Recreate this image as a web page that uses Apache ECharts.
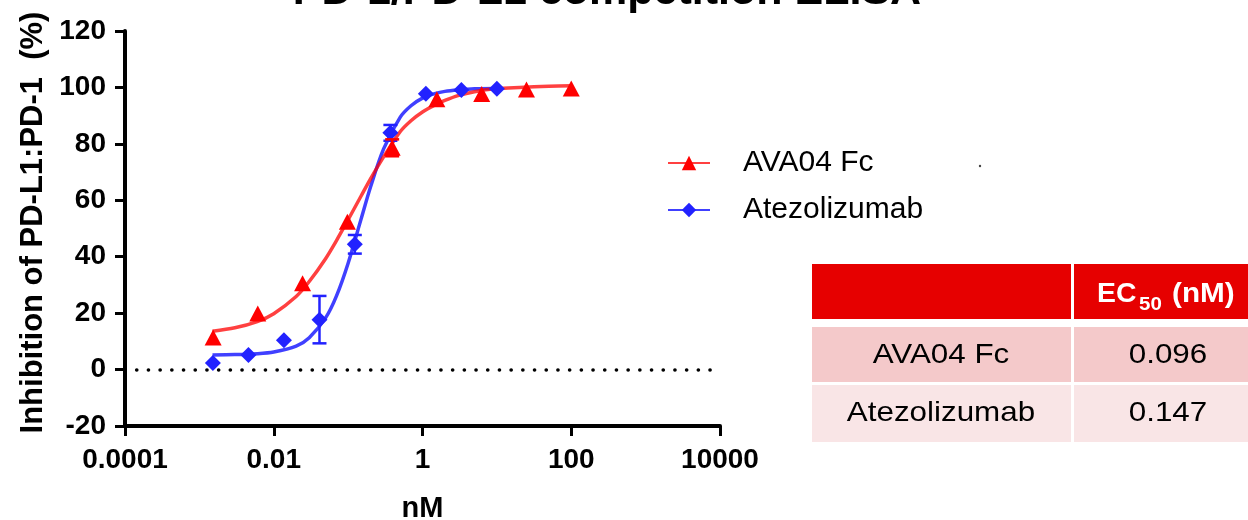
<!DOCTYPE html>
<html>
<head>
<meta charset="utf-8">
<script src="https://cdn.jsdelivr.net/npm/echarts@6/dist/echarts.min.js"></script>
<style>
  html, body { margin: 0; padding: 0; background: #fff; }
  #chart { width: 1248px; height: 520px; }
</style>
</head>
<body>
<div id="chart"></div>
<script>
// 数据 (nM, %)
var redName = 'AVA04 Fc';
var blueName = 'Atezolizumab';

var redX = [0.00153, 0.0061, 0.0244, 0.0977, 0.391, 1.56, 6.25, 25, 100];
var redY = [11.4, 19.9, 30.6, 52.4, 78.6, 95.8, 97.7, 99.3, 99.6];
var redErr = [0, 0, 0, 0, 3.0, 0, 0, 0, 0];

var blueX = [0.00152, 0.00457, 0.0137, 0.0412, 0.123, 0.370, 1.11, 3.33, 10];
var blueY = [2.3, 5.2, 10.4, 17.7, 44.4, 83.9, 97.8, 99.1, 99.5];
var blueErr = [0, 0, 0, 8.4, 3.3, 2.8, 0, 0, 0];

// 拟合曲线
var redCurveX = [0.0015, 0.003, 0.006, 0.01, 0.02, 0.03, 0.05, 0.07, 0.1, 0.15, 0.2, 0.3, 0.5, 0.7, 1, 1.5, 2, 3, 5, 10, 20, 50, 100];
var redCurveY = [13.6, 14.8, 17.0, 19.8, 25.9, 31.2, 39.4, 45.8, 53.1, 61.6, 67.6, 75.4, 84.3, 88.2, 91.3, 93.9, 95.4, 97.1, 98.5, 99.6, 100.0, 100.4, 100.6];
var blueCurveX = [0.0015, 0.003, 0.006, 0.01, 0.02, 0.03, 0.05, 0.07, 0.1, 0.15, 0.2, 0.3, 0.5, 0.7, 1, 1.5, 2, 3, 5, 10];
var blueCurveY = [5.2, 5.3, 5.6, 6.2, 8.3, 11.3, 18.4, 26.2, 37.7, 53.5, 64.7, 78.2, 89.4, 93.5, 96.2, 97.9, 98.6, 99.1, 99.5, 99.6];

var xTickLabels = ['0.0001', '0.01', '1', '100', '10000'];

// 表格
var tableNames = ['AVA04 Fc', 'Atezolizumab'];
var tableEC50 = ['0.096', '0.147'];

var RED = '#ff0000';
var RED_LINE = 'rgba(255,0,0,0.75)';
var BLUE = '#2222ff';
var BLUE_LINE = 'rgba(0,0,255,0.75)';
var FONT = '"Liberation Sans", Arial, sans-serif';

function pairs(xs, ys) {
    var out = [];
    for (var i = 0; i < xs.length; i++) out.push([xs[i], ys[i]]);
    return out;
}

function errData(xs, ys, es) {
    var out = [];
    for (var i = 0; i < xs.length; i++) {
        if (es[i] > 0) out.push([xs[i], ys[i] - es[i], ys[i] + es[i]]);
    }
    return out;
}

function errRender(color) {
    return function (params, api) {
        var top = api.coord([api.value(0), api.value(2)]);
        var bot = api.coord([api.value(0), api.value(1)]);
        var w = 7;
        var st = { stroke: color, lineWidth: 2.5 };
        return {
            type: 'group',
            children: [
                { type: 'line', shape: { x1: top[0], y1: top[1], x2: bot[0], y2: bot[1] }, style: st },
                { type: 'line', shape: { x1: top[0] - w, y1: top[1], x2: top[0] + w, y2: top[1] }, style: st },
                { type: 'line', shape: { x1: bot[0] - w, y1: bot[1], x2: bot[0] + w, y2: bot[1] }, style: st }
            ]
        };
    };
}

var myChart = echarts.init(document.getElementById('chart'));

// 表格图形
var tableGraphics = [];
var rowTop = [327, 385];
var rowH = [55, 57];
var rowColor = ['#f4c9ca', '#f9e5e6'];
tableGraphics.push({ type: 'rect', shape: { x: 812, y: 264, width: 259, height: 55 }, style: { fill: '#e60000' } });
tableGraphics.push({ type: 'rect', shape: { x: 1074, y: 264, width: 180, height: 55 }, style: { fill: '#e60000' } });
for (var r = 0; r < tableNames.length; r++) {
    tableGraphics.push({ type: 'rect', shape: { x: 812, y: rowTop[r], width: 259, height: rowH[r] }, style: { fill: rowColor[r] } });
    tableGraphics.push({ type: 'rect', shape: { x: 1074, y: rowTop[r], width: 180, height: rowH[r] }, style: { fill: rowColor[r] } });
    tableGraphics.push({
        type: 'text', x: 941, y: rowTop[r] + 28, scaleX: 1.12,
        style: { text: tableNames[r], font: '28px ' + FONT, fill: '#000', align: 'center', verticalAlign: 'middle' }
    });
    tableGraphics.push({
        type: 'text', x: 1168, y: rowTop[r] + 28, scaleX: 1.12,
        style: { text: tableEC50[r], font: '28px ' + FONT, fill: '#000', align: 'center', verticalAlign: 'middle' }
    });
}
tableGraphics.push({ type: 'text', x: 1097, y: 295, scaleX: 1.05, style: { text: 'EC', font: 'bold 27px ' + FONT, fill: '#fff', align: 'left', verticalAlign: 'middle' } });
tableGraphics.push({ type: 'text', x: 1139, y: 305, scaleX: 1.08, style: { text: '50', font: 'bold 19px ' + FONT, fill: '#fff', align: 'left', verticalAlign: 'middle' } });
tableGraphics.push({ type: 'text', x: 1172, y: 295, scaleX: 1.1, style: { text: '(nM)', font: 'bold 27px ' + FONT, fill: '#fff', align: 'left', verticalAlign: 'middle' } });

var option = {
    animation: false,
    backgroundColor: '#fff',
    graphic: [
        {
            type: 'text', x: 607, y: -8,
            style: { text: 'PD-1/PD-L1 competition ELISA', font: 'bold 43px ' + FONT, fill: '#000', align: 'center', verticalAlign: 'middle' }
        },
        { type: 'circle', shape: { cx: 980, cy: 166, r: 1.2 }, style: { fill: '#444' } }
    ].concat(tableGraphics),
    legend: {
        data: [redName, blueName],
        orient: 'vertical',
        left: 667,
        top: 148,
        padding: 0,
        itemWidth: 42,
        itemHeight: 18,
        itemGap: 17,
        textStyle: { fontFamily: FONT, fontSize: 30, color: '#000', lineHeight: 30, padding: [0, 0, 0, 28] }
    },
    grid: { left: 125, right: 528, top: 31, bottom: 94, outerBoundsMode: 'none' },
    xAxis: {
        type: 'log',
        logBase: 10,
        min: 0.0001,
        max: 10000,
        interval: 2,
        name: 'nM',
        nameLocation: 'middle',
        nameGap: 68,
        nameTextStyle: { fontFamily: FONT, fontWeight: 'bold', fontSize: 29, color: '#000' },
        axisLine: { onZero: false, lineStyle: { color: '#000', width: 4 } },
        axisTick: { length: 10, lineStyle: { width: 3, color: '#000' } },
        axisLabel: {
            margin: 20, fontFamily: FONT, fontWeight: 'bold', fontSize: 28, color: '#000',
            formatter: function (v) {
                var i = Math.round(Math.log10(v) / 2 + 2);
                return xTickLabels[i] || '';
            }
        },
        splitLine: { show: false },
        minorTick: { show: false }
    },
    yAxis: {
        type: 'value',
        min: -20,
        max: 120,
        interval: 20,
        name: 'Inhibition of PD-L1:PD-1  (%)',
        nameLocation: 'middle',
        nameGap: 76,
        nameTextStyle: { fontFamily: FONT, fontWeight: 'bold', fontSize: 31, color: '#000', padding: [0, 0, 0, 12] },
        axisLine: { show: true, lineStyle: { color: '#000', width: 4 } },
        axisTick: { show: true, length: 10, lineStyle: { width: 3, color: '#000' } },
        axisLabel: { margin: 19, fontFamily: FONT, fontWeight: 'bold', fontSize: 28, color: '#000' },
        splitLine: { show: false }
    },
    series: [
        {
            name: blueName,
            type: 'line',
            data: pairs(blueCurveX, blueCurveY),
            smooth: 0.3,
            symbol: 'diamond',
            showSymbol: false,
            color: BLUE,
            lineStyle: { color: BLUE_LINE, width: 3.5 },
            z: 2
        },
        {
            name: redName,
            type: 'line',
            data: pairs(redCurveX, redCurveY),
            smooth: 0.3,
            symbol: 'triangle',
            showSymbol: false,
            color: RED,
            lineStyle: { color: RED_LINE, width: 3.5 },
            z: 3,
            markLine: {
                silent: true,
                symbol: 'none',
                label: { show: false },
                lineStyle: { color: '#000', width: 3.6, type: [0.1, 11.6], cap: 'round' },
                data: [{ yAxis: 0 }]
            }
        },
        {
            name: 'blueErr',
            type: 'custom',
            renderItem: errRender(BLUE),
            data: errData(blueX, blueY, blueErr),
            encode: { x: 0, y: [1, 2] },
            z: 4
        },
        {
            name: 'blueData',
            type: 'scatter',
            data: pairs(blueX, blueY),
            symbol: 'diamond',
            symbolSize: 16,
            itemStyle: { color: BLUE, opacity: 1 },
            z: 5
        },
        {
            name: 'redErr',
            type: 'custom',
            renderItem: errRender(RED),
            data: errData(redX, redY, redErr),
            encode: { x: 0, y: [1, 2] },
            z: 6
        },
        {
            name: 'redData',
            type: 'scatter',
            data: pairs(redX, redY),
            symbol: 'triangle',
            symbolSize: [17, 16],
            itemStyle: { color: RED, opacity: 1 },
            z: 7
        }
    ]
};

myChart.setOption(option);
</script>
</body>
</html>
